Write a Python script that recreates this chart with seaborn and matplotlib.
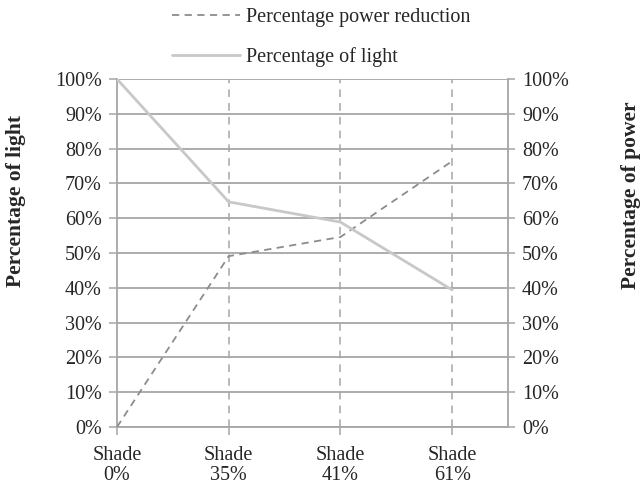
import pandas as pd
import seaborn as sns
import matplotlib.pyplot as plt
from matplotlib.lines import Line2D
from matplotlib.ticker import PercentFormatter

categories = ["Shade\n0%", "Shade\n35%", "Shade\n41%", "Shade\n61%"]
light = [100, 64.7, 58.9, 39.4]
power = [0, 49.1, 54.6, 76.4]
y_ticks = list(range(0, 101, 10))

sns.set_style("white")
plt.rcParams["font.family"] = ["Liberation Serif", "DejaVu Serif"]
plt.rcParams["font.size"] = 14.5

grid_col = "#a6a6a6"
light_col = "#c8c8c8"
power_col = "#8c8c8c"

df = pd.DataFrame({"pos": range(len(categories)), "light": light, "power": power})

fig = plt.figure(figsize=(6.41, 4.88), dpi=100)
ax = fig.add_axes([0.1825, 0.125, 0.61, 0.713])

# gridlines
for y in y_ticks:
    ax.axhline(y, color=grid_col, lw=1.3, zorder=1)
for x in df["pos"][1:]:
    ax.axvline(x, color=grid_col, lw=1.1, ls=(0, (5, 4)), zorder=1)

sns.lineplot(data=df, x="pos", y="power", ax=ax, color=power_col, lw=1.3,
             ls=(0, (4, 3)), zorder=3)
sns.lineplot(data=df, x="pos", y="light", ax=ax, color=light_col, lw=2, zorder=3)

ax.set_xlim(0, 3.5)
ax.set_ylim(0, 100)
ax.set_xticks(df["pos"])
ax.set_xticklabels(categories, linespacing=1.05)
ax.set_yticks(y_ticks)
ax.yaxis.set_major_formatter(PercentFormatter(decimals=0))
ax.set_xlabel("")
ax.set_ylabel("")
ax.tick_params(axis="y", direction="out", length=6, width=1.1, color=grid_col,
               left=True, pad=5)
ax.tick_params(axis="x", direction="out", length=6, width=1.1, color=grid_col,
               bottom=True, pad=8)

for side in ["left", "right", "bottom"]:
    ax.spines[side].set_color(grid_col)
    ax.spines[side].set_linewidth(1.3)
ax.spines["top"].set_visible(False)

ax2 = ax.twinx()
ax2.set_ylim(0, 100)
ax2.set_yticks(y_ticks)
ax2.yaxis.set_major_formatter(PercentFormatter(decimals=0))
ax2.tick_params(axis="y", direction="out", length=5, width=1.1, color=grid_col,
                right=True, pad=5)
for side in ["left", "right", "top", "bottom"]:
    ax2.spines[side].set_visible(False)

fig.text(0.025, 0.588, "Percentage of light", rotation=90, fontweight="bold",
         ha="center", va="center", fontsize=15.5)
fig.text(0.984, 0.60, "Percentage of power", rotation=90, fontweight="bold",
         ha="center", va="center", fontsize=15.5)

handles = [Line2D([], [], color=power_col, lw=1.3, ls=(0, (4, 3))),
           Line2D([], [], color=light_col, lw=2)]
fig.legend(handles, ["Percentage power reduction", "Percentage of light"],
           loc="upper left", bbox_to_anchor=(0.24, 1.021), frameon=False,
           handlelength=3.4, labelspacing=1.0, handletextpad=0.3)

fig.savefig("out.png", dpi=100)
